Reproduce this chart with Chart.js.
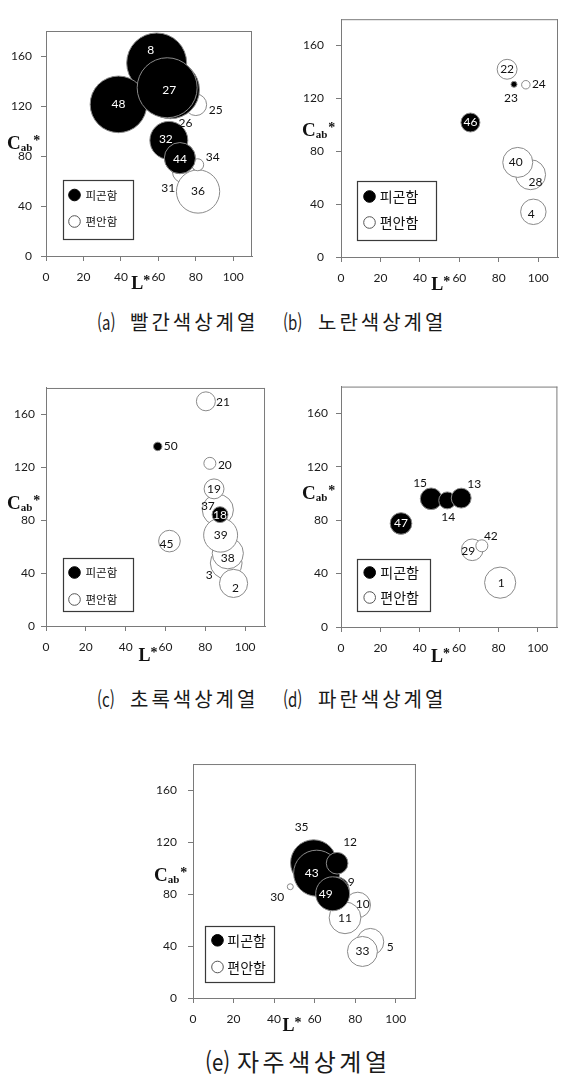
<!DOCTYPE html>
<html lang="ko">
<head>
<meta charset="utf-8">
<title>색상계열별 L*-Cab* 버블 차트</title>
<script src="https://cdn.jsdelivr.net/npm/chart.js@4.4.1/dist/chart.umd.min.js"></script>
<style>
  html, body { margin: 0; padding: 0; background: #fff; overflow: hidden; }
  body { width: 573px; height: 1085px; position: relative; }
  canvas { position: absolute; display: block; }
  .cap { position: absolute; font-family: "Noto Sans CJK KR", sans-serif; color: #1a1a1a;
         white-space: nowrap; line-height: 1; font-weight: 400; }
  .tag { display: inline-block; transform-origin: 0 50%; }
</style>
</head>
<body>
<canvas id="panelA" width="283" height="290" style="left:0;top:0"></canvas>
<canvas id="panelB" width="291" height="290" style="left:283px;top:0"></canvas>
<canvas id="panelC" width="283" height="300" style="left:0;top:370px"></canvas>
<canvas id="panelD" width="291" height="300" style="left:283px;top:370px"></canvas>
<canvas id="panelE" width="300" height="293" style="left:140px;top:740px"></canvas>

<div class="cap" style="left:97px;top:312px;font-size:20px"><span class="tag" style="transform:scaleX(0.75)">(a)</span></div>
<div class="cap" style="left:130px;top:312px;font-size:20px;letter-spacing:3px">빨간색상계열</div>
<div class="cap" style="left:283px;top:312px;font-size:20px"><span class="tag" style="transform:scaleX(0.75)">(b)</span></div>
<div class="cap" style="left:318px;top:312px;font-size:20px;letter-spacing:3px">노란색상계열</div>

<div class="cap" style="left:97px;top:689px;font-size:20px"><span class="tag" style="transform:scaleX(0.75)">(c)</span></div>
<div class="cap" style="left:130px;top:689px;font-size:20px;letter-spacing:3px">초록색상계열</div>
<div class="cap" style="left:283px;top:689px;font-size:20px"><span class="tag" style="transform:scaleX(0.75)">(d)</span></div>
<div class="cap" style="left:318px;top:689px;font-size:20px;letter-spacing:3px">파란색상계열</div>

<div class="cap" style="left:205px;top:1049px;font-size:24px"><span class="tag" style="transform:scaleX(0.85)">(e)</span></div>
<div class="cap" style="left:237px;top:1049px;font-size:24px;letter-spacing:3.5px">자주색상계열</div>

<script>
// ---- series and axes ----
const SERIES = ['피곤함', '편안함'];
const X_TICKS = [0, 20, 40, 60, 80, 100];
const Y_TICKS = [0, 40, 80, 120, 160];

// ---- (a) 빨간색상계열 ----
const redTiredIds  = [8, 48, 26, 27, 32, 44];
const redTiredL    = [59.1, 38.7, 66.5, 64.7, 65.6, 71.5];
const redTiredC    = [154.4, 121.3, 133.0, 134.6, 92.5, 78.3];
const redTiredSize = [100, 89, 93, 100, 40, 27];
const redCalmIds   = [31, 36, 25, 34];
const redCalmL     = [73.3, 81.2, 80.0, 81.0];
const redCalmC     = [67.3, 51.6, 121.0, 73.0];
const redCalmSize  = [13, 52, 13, 4];

// ---- (b) 노란색상계열 ----
const yellowTiredIds  = [46, 23];
const yellowTiredL    = [65.6, 87.7];
const yellowTiredC    = [101.8, 130.7];
const yellowTiredSize = [10, 1];
const yellowCalmIds   = [22, 24, 28, 40, 4];
const yellowCalmL     = [84.2, 93.7, 96.1, 89.6, 97.5];
const yellowCalmC     = [142.1, 130.4, 62.3, 71.6, 34.2];
const yellowCalmSize  = [11, 2, 25, 25, 18];

// ---- (c) 초록색상계열 ----
const greenTiredIds  = [50, 18];
const greenTiredL    = [56.1, 87.4];
const greenTiredC    = [135.8, 84.2];
const greenTiredSize = [2, 7];
const greenCalmIds   = [37, 3, 38, 39, 2, 19, 20, 21, 45];
const greenCalmL     = [86.3, 90.5, 91.3, 87.7, 94.2, 84.4, 82.3, 80.3, 62.0];
const greenCalmC     = [87.8, 47.6, 55.0, 68.7, 32.2, 103.7, 123.0, 169.9, 64.2];
const greenCalmSize  = [27, 28, 27, 32, 22, 11, 4, 10, 13];

// ---- (d) 파란색상계열 ----
const blueTiredIds  = [47, 15, 14, 13];
const blueTiredL    = [30.5, 45.8, 54.0, 61.1];
const blueTiredC    = [77.5, 96.0, 94.8, 96.5];
const blueTiredSize = [13, 13, 8, 11];
const blueCalmIds   = [29, 42, 1];
const blueCalmL     = [66.7, 71.6, 80.9];
const blueCalmC     = [57.8, 60.8, 33.2];
const blueCalmSize  = [13, 4, 27];

// ---- (e) 자주색상계열 ----
const purpleTiredIds  = [35, 43, 12, 9, 49];
const purpleTiredL    = [59.5, 61.0, 71.1, 71.1, 68.9];
const purpleTiredC    = [104.0, 96.0, 103.7, 83.8, 80.2];
const purpleTiredSize = [59, 59, 13, 16, 32];
const purpleCalmIds   = [30, 10, 11, 5, 33];
const purpleCalmL     = [48.0, 81.3, 75.0, 87.5, 83.6];
const purpleCalmC     = [85.6, 71.6, 61.7, 43.2, 35.8];
const purpleCalmSize  = [1, 18, 28, 20, 25];

// ---- presentation ----
const BUBBLE_K = 3;            // bubble radius = BUBBLE_K * sqrt(size)
const AXIS_COLOR = '#7a7a7a';
const EDGE_COLOR = '#8a8a8a';
const TICK_FONT = { family: 'Lato', size: 12 };

// label shifts (px) for numbers that sit beside their bubble
const labelShift = {
  red:    { 8: [-6, -13], 26: [15, 33], 27: [2, 2], 32: [-3, -1], 44: [0, 1], 25: [20, 5], 34: [15, -8], 31: [-15, 16] },
  yellow: { 23: [-3, 14], 24: [13, -1], 28: [5, 7], 40: [-2, 0], 4: [-2, 2] },
  green:  { 50: [13, 0], 37: [-10, -4], 38: [0, 5], 3: [-17, 12], 2: [2, 5], 21: [17, 1], 20: [15, 2], 45: [-3, 3] },
  blue:   { 15: [-11, -16], 14: [1, 17], 13: [13, -14], 29: [-4, 1], 42: [9, -10], 1: [1, 0] },
  purple: { 35: [-12, -36], 43: [-5, 0], 12: [13, -21], 9: [14, -7], 49: [-7, 0], 30: [-13, 10], 10: [5, -1], 5: [20, 5] }
};

function points(ids, L, C, size) {
  return ids.map((id, i) => ({ x: L[i], y: C[i], r: BUBBLE_K * Math.sqrt(size[i]), id }));
}

const decor = {
  id: 'panelDecor',
  afterDatasetsDraw(chart, args, o) {
    const ctx = chart.ctx;
    const { left, top, right, bottom } = chart.chartArea;
    ctx.save();

    // top and right edges of the plot frame
    ctx.strokeStyle = AXIS_COLOR;
    ctx.lineWidth = 1;
    ctx.beginPath();
    ctx.moveTo(left, top + 0.5); ctx.lineTo(right, top + 0.5);
    ctx.moveTo(right - 0.5, top); ctx.lineTo(right - 0.5, bottom);
    ctx.stroke();

    // sample numbers
    ctx.font = '12px Lato';
    ctx.textAlign = 'center';
    ctx.textBaseline = 'middle';
    chart.data.datasets.forEach((ds, di) => {
      chart.getDatasetMeta(di).data.forEach((el, i) => {
        const id = ds.data[i].id;
        const s = o.shift[id] || [0, 0];
        const inside = Math.hypot(s[0], s[1]) < el.options.radius - 2;
        ctx.fillStyle = (di === 0 && inside) ? '#ffffff' : '#111111';
        ctx.fillText(String(id), el.x + s[0], el.y + s[1]);
      });
    });

    // legend box inside the plot
    const lg = o.legend;
    const bx = Math.round(left + lg.dx), by = Math.round(bottom - lg.dy - lg.h);
    ctx.fillStyle = '#ffffff';
    ctx.fillRect(bx, by, lg.w, lg.h);
    ctx.strokeStyle = '#3a3a3a';
    ctx.lineWidth = 1.2;
    ctx.strokeRect(bx + 0.5, by + 0.5, lg.w, lg.h);
    ctx.font = lg.font + 'px "Noto Sans CJK KR"';
    ctx.textAlign = 'left';
    ctx.textBaseline = 'middle';
    chart.data.datasets.forEach((ds, di) => {
      const cy = by + lg.rows[di];
      ctx.beginPath();
      ctx.arc(bx + lg.mx, cy, 5.8, 0, Math.PI * 2);
      ctx.fillStyle = ds.backgroundColor;
      ctx.fill();
      ctx.lineWidth = 1;
      ctx.strokeStyle = di === 0 ? '#000000' : '#555555';
      ctx.stroke();
      ctx.fillStyle = '#111111';
      ctx.fillText(ds.label, bx + lg.tx, cy + 0.5);
    });

    // axis titles: Cab* and L*
    ctx.fillStyle = '#111111';
    ctx.textAlign = 'left';
    ctx.textBaseline = 'alphabetic';
    let x = left - 39;
    const y = top + o.cY;
    ctx.font = 'bold 19px "Liberation Serif"';
    ctx.fillText('C', x, y);
    x += ctx.measureText('C').width;
    ctx.font = 'bold 11px "Liberation Serif"';
    ctx.fillText('ab', x, y + 2);
    x += ctx.measureText('ab').width;
    ctx.font = 'bold 14px "Liberation Serif"';
    ctx.fillText('*', x + 1, y - 4);

    const lx = chart.scales.x.getPixelForValue(60) + o.lDx;
    const ly = bottom + o.lY;
    ctx.font = 'bold 18px "Liberation Serif"';
    ctx.fillText('L', lx, ly);
    const lw = ctx.measureText('L').width;
    ctx.font = 'bold 14px "Liberation Serif"';
    ctx.fillText('*', lx + lw, ly - 4);

    ctx.restore();
  }
};

function panel(canvasId, tired, calm, layout) {
  return new Chart(document.getElementById(canvasId), {
    type: 'bubble',
    data: {
      datasets: [
        { label: SERIES[0], data: tired, backgroundColor: '#000000', borderColor: EDGE_COLOR, borderWidth: 1 },
        { label: SERIES[1], data: calm, backgroundColor: '#ffffff', borderColor: EDGE_COLOR, borderWidth: 1 }
      ]
    },
    options: {
      responsive: false,
      animation: false,
      events: [],
      layout: { padding: { left: 0, top: layout.padTop, right: layout.padRight, bottom: 0 } },
      plugins: {
        legend: { display: false },
        tooltip: { enabled: false },
        panelDecor: { shift: layout.shift, legend: layout.legend, cY: layout.cY, lDx: layout.lDx, lY: layout.lY }
      },
      scales: {
        x: {
          type: 'linear', min: 0, max: 110,
          afterFit(s) { s.height = layout.xH; },
          afterBuildTicks(s) { s.ticks = X_TICKS.map(v => ({ value: v })); },
          ticks: { font: TICK_FONT, color: '#1a1a1a', padding: 9, maxRotation: 0 },
          grid: { drawOnChartArea: false, drawTicks: true, tickLength: 5, color: AXIS_COLOR },
          border: { display: true, color: AXIS_COLOR, width: 1 }
        },
        y: {
          type: 'linear', min: 0, max: 180,
          afterFit(s) { s.width = layout.yW; },
          afterBuildTicks(s) { s.ticks = Y_TICKS.map(v => ({ value: v })); },
          ticks: { font: TICK_FONT, color: '#1a1a1a', padding: layout.yPad },
          grid: { drawOnChartArea: false, drawTicks: true, tickLength: 5, color: AXIS_COLOR },
          border: { display: true, color: AXIS_COLOR, width: 1 }
        }
      }
    },
    plugins: [decor]
  });
}

panel('panelA',
  points(redTiredIds, redTiredL, redTiredC, redTiredSize),
  points(redCalmIds, redCalmL, redCalmC, redCalmSize),
  { padTop: 10, padRight: 3, xH: 34, yW: 46, yPad: 9, shift: labelShift.red, cY: 118, lDx: -27, lY: 33,
    legend: { dx: 17, dy: 17, w: 70, h: 59, font: 11.5, rows: [15, 41.5], mx: 11.5, tx: 22.5 } });

panel('panelB',
  points(yellowTiredIds, yellowTiredL, yellowTiredC, yellowTiredSize),
  points(yellowCalmIds, yellowCalmL, yellowCalmC, yellowCalmSize),
  { padTop: 10, padRight: 0, xH: 33, yW: 58, yPad: 12, shift: labelShift.yellow, cY: 117, lDx: -28, lY: 33,
    legend: { dx: 16, dy: 17, w: 79, h: 59, font: 14, rows: [15.5, 41.5], mx: 12.5, tx: 22.7 } });

panel('panelC',
  points(greenTiredIds, greenTiredL, greenTiredC, greenTiredSize),
  points(greenCalmIds, greenCalmL, greenCalmC, greenCalmSize),
  { padTop: 13, padRight: 3, xH: 44, yW: 46, yPad: 6, shift: labelShift.green, cY: 121, lDx: -27, lY: 35,
    legend: { dx: 17, dy: 15, w: 70, h: 53, font: 11.5, rows: [14.5, 41.5], mx: 11.5, tx: 22.5 } });

panel('panelD',
  points(blueTiredIds, blueTiredL, blueTiredC, blueTiredSize),
  points(blueCalmIds, blueCalmL, blueCalmC, blueCalmSize),
  { padTop: 13, padRight: 0, xH: 43, yW: 58, yPad: 8, shift: labelShift.blue, cY: 112, lDx: -28, lY: 35,
    legend: { dx: 16, dy: 16, w: 73, h: 52, font: 14, rows: [13.5, 38.5], mx: 12.7, tx: 23.3 } });

panel('panelE',
  points(purpleTiredIds, purpleTiredL, purpleTiredC, purpleTiredSize),
  points(purpleCalmIds, purpleCalmL, purpleCalmC, purpleCalmSize),
  { padTop: 15, padRight: 12, xH: 35, yW: 53, yPad: 11, shift: labelShift.purple, cY: 117, lDx: -32, lY: 33,
    legend: { dx: 12, dy: 16, w: 69, h: 56, font: 14, rows: [14.3, 41], mx: 12.5, tx: 22.3 } });
</script>
</body>
</html>
